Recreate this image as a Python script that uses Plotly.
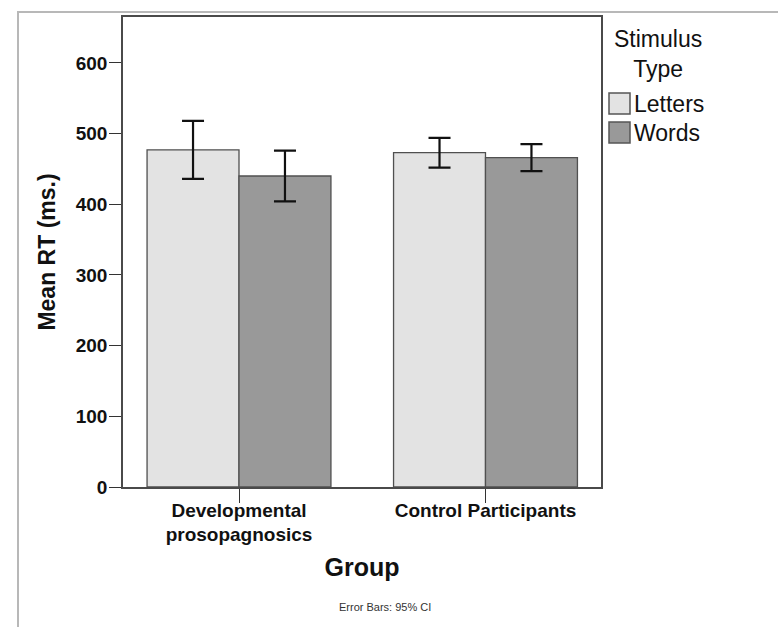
import plotly.graph_objects as go

# ---- data ----
groups = ["Developmental<br>prosopagnosics", "Control Participants"]
series_names = ["Letters", "Words"]
letters_mean = [477, 473]
words_mean = [440, 466]
letters_ci = [41, 21]
words_ci = [36, 19]
y_ticks = [0, 100, 200, 300, 400, 500, 600]

# ---- style ----
FONT = "Liberation Sans, Arial, sans-serif"
fills = ["#e3e3e3", "#999999"]
edge = "#505050"

# plot-area pixel geometry (for paper-coordinate helpers)
L, R, T, B = 123, 601, 17, 487
W, H = 778, 627
def px(x):
    return (x - L) / (R - L)
def py(y):
    return (B - y) / (B - T)

fig = go.Figure()
for name, vals, ci, col in zip(series_names, [letters_mean, words_mean],
                               [letters_ci, words_ci], fills):
    fig.add_trace(go.Bar(
        name=name, x=groups, y=vals,
        marker=dict(color=col, line=dict(color=edge, width=1.3)),
        error_y=dict(type="data", array=ci, visible=True,
                     color="#111111", thickness=2.2, width=11),
        showlegend=False,
    ))

fig.update_layout(
    width=W, height=H,
    margin=dict(l=L, r=W - R, t=T, b=H - B, autoexpand=False),
    paper_bgcolor="white", plot_bgcolor="white",
    barmode="group", bargap=0.254, bargroupgap=0,
    font=dict(family=FONT, color="#1a1a1a"),
    showlegend=False,
)
fig.update_xaxes(
    range=[-0.4706, 1.4686],
    showline=True, mirror=True, linecolor="#4a4a4a", linewidth=1.5,
    ticks="outside", ticklen=14, tickcolor="#333", tickwidth=1.3,
    ticklabelstandoff=-9,
    tickfont=dict(size=19, family=FONT, color="#111", weight="bold"),
    showgrid=False, zeroline=False,
    title=dict(text="<b>Group</b>", font=dict(size=25, family=FONT, color="#111"),
               standoff=14),
)
fig.update_yaxes(
    range=[0, 665],
    tickvals=y_ticks, ticktext=[str(v) for v in y_ticks],
    showline=True, mirror=True, linecolor="#4a4a4a", linewidth=1.5,
    ticks="outside", ticklen=12, tickcolor="#333", tickwidth=1.3,
    ticklabelstandoff=-2,
    tickfont=dict(size=19, family=FONT, color="#111", weight="bold"),
    showgrid=False, zeroline=False,
    title=dict(text="<b>Mean RT (ms.)</b>", font=dict(size=23, family=FONT, color="#111"),
               standoff=14),
)

# outer frame (SPSS-style chart border)
fig.add_shape(type="rect", xref="paper", yref="paper",
              x0=px(18), x1=px(800), y0=py(660), y1=py(12),
              line=dict(color="#b8b8b8", width=2), fillcolor="rgba(0,0,0,0)",
              layer="below")

# manual legend
fig.add_annotation(xref="paper", yref="paper", x=px(658), y=py(84),
                   xanchor="center", yanchor="bottom", showarrow=False,
                   text="Stimulus<br>Type", align="center",
                   font=dict(size=23, family=FONT, color="#111"))
sw_tops = [93, 122]
for name, col, top in zip(series_names, fills, sw_tops):
    fig.add_shape(type="rect", xref="paper", yref="paper",
                  x0=px(609), x1=px(630), y0=py(top + 21), y1=py(top),
                  line=dict(color="#555555", width=1.5), fillcolor=col)
    fig.add_annotation(xref="paper", yref="paper", x=px(632), y=py(top + 11),
                       xanchor="left", yanchor="middle", showarrow=False,
                       text=name, font=dict(size=23, family=FONT, color="#111"))

fig.add_annotation(xref="paper", yref="paper", x=px(385), y=py(607),
                   xanchor="center", yanchor="middle", showarrow=False,
                   text="Error Bars: 95% CI",
                   font=dict(size=11, family=FONT, color="#333"))

fig.write_html("out.html")
